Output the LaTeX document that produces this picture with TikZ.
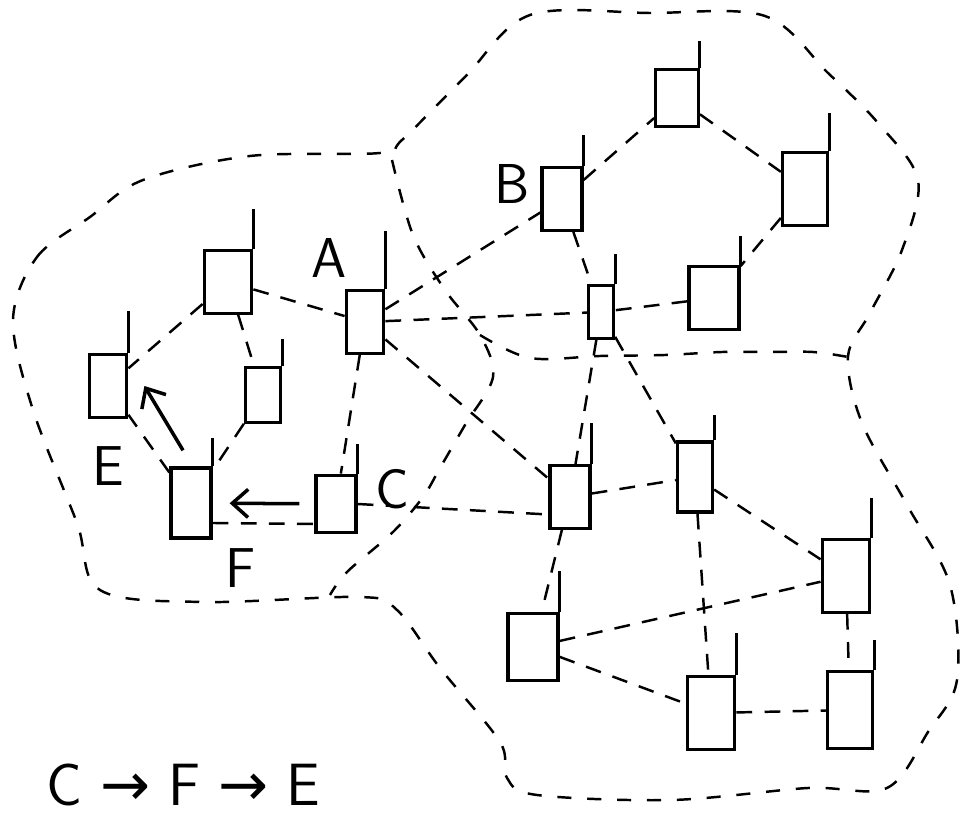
\documentclass[tikz,border=0pt]{standalone}
\usepackage{fontspec}
\usepackage{tikz}
\usetikzlibrary{positioning,arrows.meta}
\newfontfamily\arrowfont{DejaVu Sans}

\begin{document}
\begin{tikzpicture}[x=0.02cm, y=-0.02cm,
    pc/.style={draw, line width=1.9pt, minimum width=0.8cm, minimum height=1.25cm, inner sep=0pt},
    lbl/.style={font=\sffamily\fontsize{32}{38}\selectfont, inner sep=0pt},
    link/.style={line width=1.4pt, dash pattern=on 9pt off 7pt},
    zone/.style={line width=1.4pt, dash pattern=on 8pt off 9pt},
    stub/.style={line width=1.7pt},
    arr/.style={line width=2pt, -{Straight Barb[length=9pt, width=16pt]}, shorten <=0.3cm, shorten >=0.34cm}]
    \useasboundingbox (0,0) rectangle (965,820);

    % left area
    \node[pc, minimum width=0.95cm] (la) at (228,282) {};
    \node[pc, minimum width=0.75cm] (A) at (365,322) {};
    \node[pc, minimum width=0.75cm] (E) at (108,386) {};
    \node[pc, minimum width=0.7cm, minimum height=1.1cm] (lb) at (263,395) {};
    \node[pc, minimum height=1.4cm] (F) at (191,503) {};
    \node[pc, minimum height=1.15cm] (C) at (336,504) {};
    % upper area
    \node[pc] (B) at (562,199) {};
    \node[pc, minimum width=0.85cm, minimum height=1.15cm] (ua) at (677,98) {};
    \node[pc, minimum width=0.9cm, minimum height=1.45cm] (ub) at (805,189) {};
    \node[pc, minimum width=0.5cm, minimum height=1.05cm] (uc) at (601,312) {};
    \node[pc, minimum width=1cm] (ud) at (714,298) {};
    % lower area
    \node[pc] (da) at (570,497) {};
    \node[pc, minimum width=0.7cm, minimum height=1.4cm] (db) at (695,477) {};
    \node[pc, minimum width=0.95cm, minimum height=1.45cm] (dc) at (846,576) {};
    \node[pc, minimum width=1cm, minimum height=1.35cm] (dd) at (533,647) {};
    \node[pc, minimum width=0.95cm, minimum height=1.45cm] (de) at (711,713) {};
    \node[pc, minimum width=0.9cm, minimum height=1.55cm] (df) at (850,710) {};

    % labels
    \node[lbl, above left=0.22cm and -0.05cm of A] (labA) {A};
    \node[lbl, left=0.2cm of B, yshift=0.3cm] (labB) {B};
    \node[lbl, right=0.35cm of C, yshift=0.3cm] (labC) {C};
    \node[lbl, below=0.55cm of E] (labE) {E};
    \node[lbl, below right=0.18cm and 0.25cm of F] (labF) {F};
    \node[lbl, font=\sffamily\fontsize{34}{40}\selectfont] (chain) at (183,785)
        {C\hspace{0.3em}{\arrowfont →}\hspace{0.3em}F\hspace{0.3em}{\arrowfont →}\hspace{0.3em}E};

    % little tails on top of each box
    \foreach \n/\h in {la/40, A/58, E/42, lb/27, F/28, C/30, B/31, ua/27, ub/38, uc/30,
                       ud/29, da/41, db/25, dc/40, dd/41, de/42, df/30}
        \draw[stub] (\n.north east) -- ++(0,-\h);

    % links
    \foreach \a/\b in {la/E, la/A, la/lb, lb/F, F/E, A/C, A/B, A/uc, A/da, B/ua, ua/ub,
                       ub/ud, ud/uc, B/uc, uc/da, uc/db, da/db, db/dc, da/dd, db/de,
                       dd/dc, dd/de, de/df, dc/df}
        \draw[link] (\a) -- (\b);
    \draw[link] ([yshift=-0.4cm]F.east) -- ([yshift=-0.4cm]C.west);
    \draw[link] (C.east) -- ([yshift=-0.35cm]da.west);

    % path C -> F -> E
    \draw[arr] (C) -- (F);
    \draw[arr, shorten <=0pt, shorten >=0pt] ([shift={(-0.16cm,0.32cm)}]F.north) -- ([xshift=0.32cm]E.east);

    % areas
    \draw[zone] plot[smooth cycle, tension=0.55] coordinates {
        (13,320) (37,257) (90,217) (143,180) (250,156) (380,153) (402,140) (465,77)
        (530,15) (650,13) (765,16) (828,73) (878,123) (918,180) (902,250) (870,313)
        (848,357) (862,423) (907,505) (950,585) (957,680) (928,732) (887,788) (808,788)
        (672,800) (537,795) (507,778) (500,742) (440,668) (397,610) (360,597) (203,602)
        (100,590) (77,523) (33,410)};
    \draw[zone] plot[smooth, tension=0.55] coordinates {
        (392,160) (413,235) (445,290) (480,335) (493,377) (465,425) (440,468) (423,497)
        (393,532) (347,572) (330,595)};
    \draw[zone] plot[smooth, tension=0.55] coordinates {
        (480,335) (530,358) (600,356) (665,355) (722,352) (768,352) (813,352) (848,357)};
\end{tikzpicture}
\end{document}
